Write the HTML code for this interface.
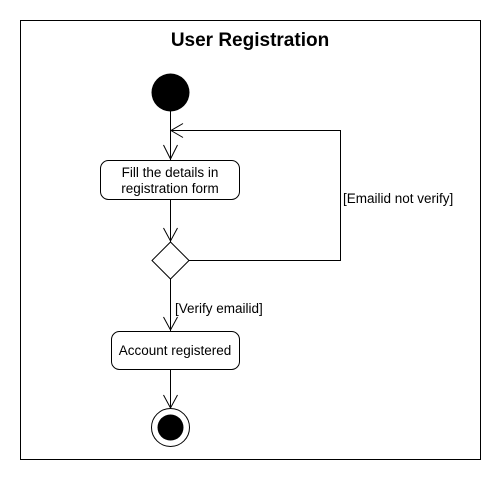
<!DOCTYPE html>
<html><head><style>body{margin:0;background:#fff}</style></head><body>
<svg width="500" height="480" xmlns="http://www.w3.org/2000/svg" font-family="Liberation Sans, sans-serif">
<rect x="20.5" y="20.5" width="460" height="439" fill="none" stroke="#000"/>
<text x="250" y="46" text-anchor="middle" font-size="19" font-weight="bold">User Registration</text>
<circle cx="170.5" cy="92.5" r="19" fill="#000"/>
<g stroke="#000" fill="none" stroke-width="1">
<line x1="170.5" y1="111" x2="170.5" y2="160"/>
<polyline points="163.5,145 170.5,159 177.5,145"/>
<polyline points="189,260.5 340.5,260.5 340.5,130.5 171,130.5"/>
<polyline points="183,123.5 171,130.5 183,137.5"/>
<rect x="100.5" y="160.5" width="139" height="39" rx="8"/>
<line x1="170.5" y1="200" x2="170.5" y2="242"/>
<polyline points="163.5,228 170.5,241 177.5,228"/>
<polygon points="170.5,242 189,260.5 170.5,279 152,260.5"/>
<line x1="170.5" y1="279" x2="170.5" y2="331"/>
<polyline points="163.5,317 170.5,330 177.5,317"/>
<rect x="111.5" y="331.5" width="128" height="38" rx="8"/>
<line x1="170.5" y1="370" x2="170.5" y2="408"/>
<polyline points="163.5,395 170.5,408 177.5,395"/>
<circle cx="170.5" cy="427.5" r="19"/>
</g>
<circle cx="170.5" cy="427.5" r="13" fill="#000"/>
<g font-size="13.5" text-anchor="middle">
<text x="170" y="177">Fill the details in</text>
<text x="170" y="193">registration form</text>
<text x="175" y="355">Account registered</text>
</g>
<text x="343" y="203" font-size="13.5">[Emailid not verify]</text>
<text x="175" y="313" font-size="13.5">[Verify emailid]</text>
</svg>
</body></html>
